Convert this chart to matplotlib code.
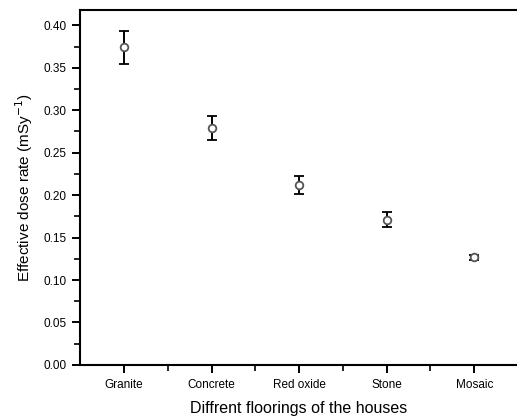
import numpy as np
import matplotlib.pyplot as plt
from matplotlib.ticker import MultipleLocator

plt.rcParams['font.family'] = ['Liberation Sans', 'DejaVu Sans']

# Effective dose rate by flooring type
floorings = ["Granite", "Concrete", "Red oxide", "Stone", "Mosaic"]
dose_rate = [0.374, 0.279, 0.212, 0.171, 0.127]
dose_err = [0.019, 0.014, 0.011, 0.009, 0.003]

fig = plt.figure(figsize=(5.17, 4.19), dpi=100)
ax = fig.add_axes([0.155, 0.129, 0.847, 0.847])

pos = np.arange(1, len(floorings) + 1)
ax.errorbar(pos, dose_rate, yerr=dose_err, fmt='o', ms=5.5,
            mfc='white', mec='#555555', mew=1.3,
            ecolor='black', elinewidth=1.4, capsize=3.5, capthick=1.4)

ax.set_xlim(0.5, 5.5)
ax.set_ylim(0, 0.418)
ax.set_xticks(pos)
ax.set_xticklabels(floorings)
ax.xaxis.set_minor_locator(plt.FixedLocator(np.arange(1.5, 5.5, 1.0)))
ax.yaxis.set_major_locator(MultipleLocator(0.05))
ax.yaxis.set_minor_locator(MultipleLocator(0.025))
ax.yaxis.set_major_formatter(plt.FormatStrFormatter('%.2f'))

for s in ax.spines.values():
    s.set_linewidth(1.5)
ax.spines['right'].set_visible(False)

ax.tick_params(which='major', direction='out', length=6, width=1.4,
               labelsize=8.5, pad=4)
ax.tick_params(which='minor', direction='out', length=4, width=1.2)
ax.tick_params(axis='y', right=False)

ax.set_xlabel("Diffrent floorings of the houses", fontsize=11.5, labelpad=7)
ax.set_ylabel("Effective dose rate (mSy$^{-1}$)", fontsize=11, labelpad=6)

fig.savefig("out.png", dpi=100)
